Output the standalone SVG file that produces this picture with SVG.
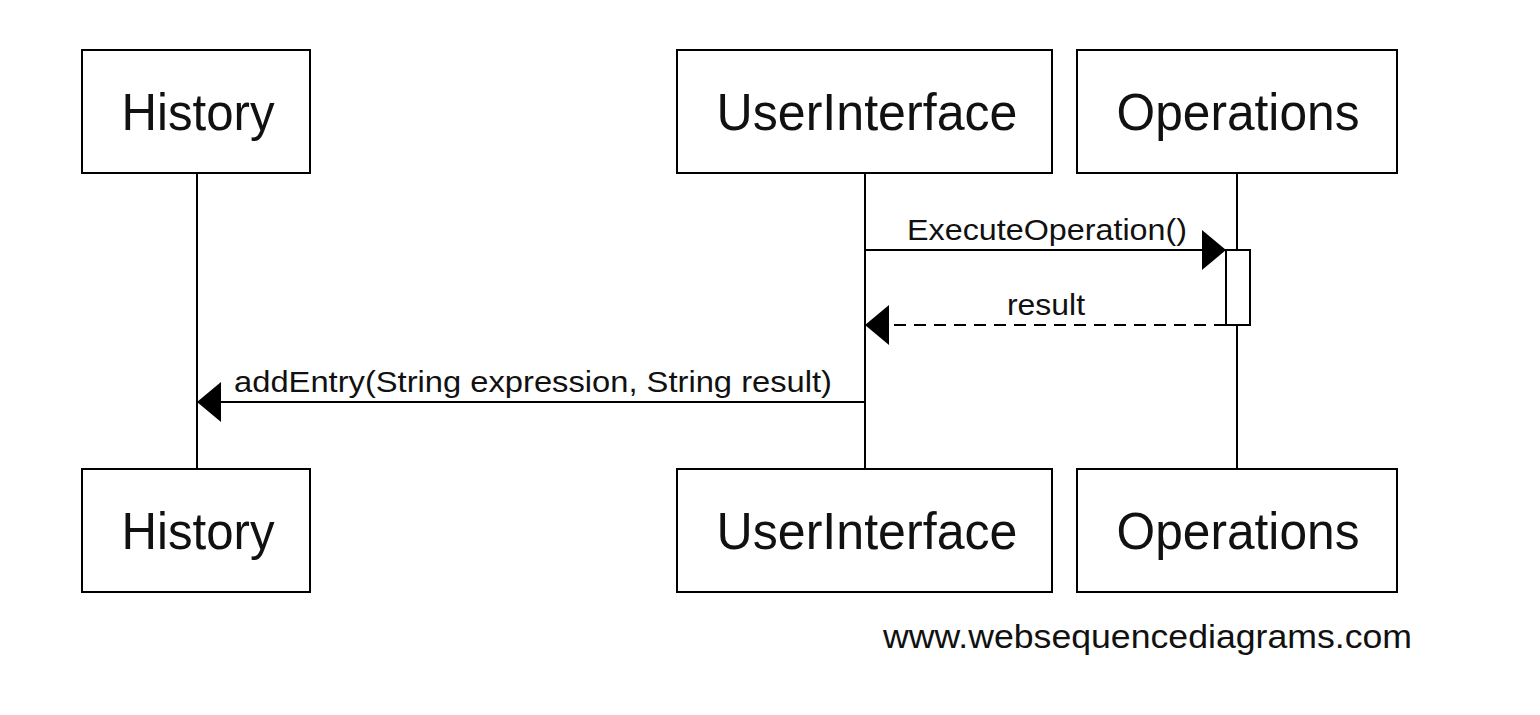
<svg xmlns="http://www.w3.org/2000/svg" width="1540" height="715" viewBox="0 0 1540 715">
<style>
.box{fill:#fff;stroke:#000;stroke-width:2}
.life{stroke:#000;stroke-width:2;fill:none}
.msg{stroke:#000;stroke-width:2;fill:none}
.dash{stroke-dasharray:12,8}
.t{font-family:"Liberation Sans",Arial,sans-serif;fill:#111}
.title{font-size:52px;text-anchor:middle}
.lbl{font-size:30px}
</style>
<rect width="1540" height="715" fill="#fff"/>
<g id="lifelines">
<line class="life" x1="197" y1="173" x2="197" y2="469"/>
<line class="life" x1="865" y1="173" x2="865" y2="469"/>
<line class="life" x1="1237" y1="173" x2="1237" y2="469"/>
</g>
<g id="History">
<rect class="box" x="82" y="50" width="228" height="123"/>
<text class="t title" x="198" y="130" textLength="153" lengthAdjust="spacingAndGlyphs">History</text>
</g>
<g id="UserInterface">
<rect class="box" x="677" y="50" width="375" height="123"/>
<text class="t title" x="867" y="130" textLength="301" lengthAdjust="spacingAndGlyphs">UserInterface</text>
</g>
<g id="Operations">
<rect class="box" x="1077" y="50" width="320" height="123"/>
<text class="t title" x="1238" y="130" textLength="243" lengthAdjust="spacingAndGlyphs">Operations</text>
</g>
<g id="History-bottom">
<rect class="box" x="82" y="469" width="228" height="123"/>
<text class="t title" x="198" y="549" textLength="153" lengthAdjust="spacingAndGlyphs">History</text>
</g>
<g id="UserInterface-bottom">
<rect class="box" x="677" y="469" width="375" height="123"/>
<text class="t title" x="867" y="549" textLength="301" lengthAdjust="spacingAndGlyphs">UserInterface</text>
</g>
<g id="Operations-bottom">
<rect class="box" x="1077" y="469" width="320" height="123"/>
<text class="t title" x="1238" y="549" textLength="243" lengthAdjust="spacingAndGlyphs">Operations</text>
</g>
<g id="activation">
<rect class="box" x="1226" y="250" width="24" height="75"/>
</g>
<g id="connectors">
<line class="msg" x1="865" y1="250" x2="1205" y2="250"/>
<polygon points="1226,250 1202,230 1202,270" fill="#000"/>
<text class="t lbl" x="907" y="240" textLength="280" lengthAdjust="spacingAndGlyphs">ExecuteOperation()</text>
<line class="msg dash" x1="1226" y1="325" x2="885" y2="325"/>
<polygon points="865,325 889,305 889,345" fill="#000"/>
<text class="t lbl" x="1007" y="315" textLength="78" lengthAdjust="spacingAndGlyphs">result</text>
<line class="msg" x1="865" y1="402" x2="217" y2="402"/>
<polygon points="197,402 221,382 221,422" fill="#000"/>
<text class="t lbl" x="234" y="392" textLength="598" lengthAdjust="spacingAndGlyphs">addEntry(String expression, String result)</text>
</g>
<text class="t" x="883" y="648" font-size="33" textLength="529" lengthAdjust="spacingAndGlyphs">www.websequencediagrams.com</text>
</svg>
